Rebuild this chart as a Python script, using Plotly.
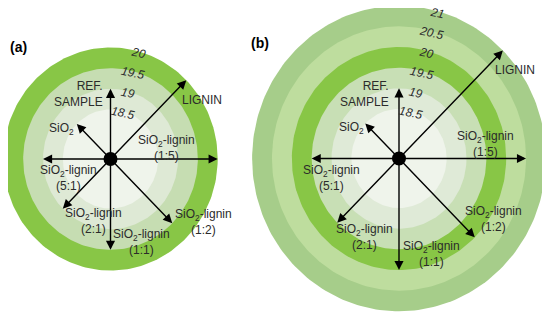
import numpy as np
import plotly.graph_objects as go

# ring levels and colours (outer value of each disk)
levels_a = [20, 19.5, 19, 18.5]
colors_a = ["#88c646", "#c6ddb2", "#dee9d5", "#eff4eb"]
levels_b = [21, 20.5, 20, 19.5, 19, 18.5]
colors_b = ["#a6cd8a", "#bedd9e", "#88c646", "#c8dfb5", "#dfead7", "#eff4eb"]

# samples, arrow directions (deg) and values
samples = ["REF.<br>SAMPLE", "SiO<sub>2</sub>", "LIGNIN", "SiO<sub>2</sub>-lignin<br>(1:5)",
           "SiO<sub>2</sub>-lignin<br>(1:2)", "SiO<sub>2</sub>-lignin<br>(1:1)",
           "SiO<sub>2</sub>-lignin<br>(2:1)", "SiO<sub>2</sub>-lignin<br>(5:1)"]
angles = [90, 135, 45, 0, -45, -90, -135, 180]
values_a = [19, 18.5, 20, 20, 19.5, 19.5, 19, 19]
values_b = [19, 18.5, 21, 20.5, 20, 20, 19.5, 19.5]

R0 = 17.3  # radial value at the centre

# label placement (axis units, relative to centre)
label_pos_a = [(-0.15, 1.58), (-1.23, 0.72), (2.30, 1.43), (1.42, 0.26),
               (2.34, -1.52), (0.79, -2.02), (-0.43, -1.50), (-1.06, -0.47)]
label_pos_b = [(-0.19, 1.57), (-1.19, 0.73), (2.92, 2.14), (2.17, 0.35),
               (2.38, -1.47), (0.82, -2.31), (-0.86, -1.91), (-1.70, -0.48)]

OFF = 8  # page body margin
W, H = 550 - OFF, 316 - OFF
SX, SY = 39.7, 41.3  # px per unit
split = 242 - OFF

fig = go.Figure()
t = np.linspace(0, 2 * np.pi, 241)
txt = "#2b2b2b"
font = dict(family="Liberation Sans, Arial", size=12, color=txt)


def panel(levels, colors, values, label_pos, xr, yr):
    for lv, c in zip(levels, colors):
        r = lv - R0
        fig.add_trace(go.Scatter(x=r * np.cos(t), y=r * np.sin(t), fill="toself", fillcolor=c,
                                 mode="lines", line=dict(width=0, color=c), hoverinfo="skip",
                                 showlegend=False, xaxis=xr, yaxis=yr))
    for name, ang, v, (lx, ly) in zip(samples, angles, values, label_pos):
        r = v - R0
        a = np.radians(ang)
        fig.add_annotation(x=r * np.cos(a), y=r * np.sin(a), ax=0, ay=0, xref=xr, yref=yr,
                           axref=xr, ayref=yr, text="", showarrow=True, arrowhead=2,
                           arrowsize=1.3, arrowwidth=1.4, arrowcolor="black", standoff=0)
        ref = name.startswith("REF")
        fig.add_annotation(x=lx, y=ly, xref=xr, yref=yr, text=name, showarrow=False,
                           font=font, xanchor="right" if ref else "center",
                           align="right" if ref else "center")
    fig.add_trace(go.Scatter(x=[0], y=[0], mode="markers", marker=dict(size=14, color="black"),
                             hoverinfo="skip", showlegend=False, xaxis=xr, yaxis=yr))
    tick = np.radians(90 - 15)
    for lv in levels:
        r = lv - R0
        fig.add_annotation(x=r * np.cos(tick), y=r * np.sin(tick), xref=xr, yref=yr,
                           text="<i>%g</i>" % lv, showarrow=False, textangle=12, yshift=-2,
                           font=dict(family="Liberation Sans, Arial", size=12, color=txt))


panel(levels_a, colors_a, values_a, label_pos_a, "x", "y")
panel(levels_b, colors_b, values_b, label_pos_b, "x2", "y2")

ca, cb = (110.5 - OFF, 159 - OFF), (399 - OFF, 158.5 - OFF)
ax_common = dict(visible=False, showgrid=False, zeroline=False, fixedrange=True)
fig.update_layout(
    width=W, height=H, margin=dict(l=0, r=0, t=0, b=0),
    paper_bgcolor="white", plot_bgcolor="white", showlegend=False,
    xaxis=dict(domain=[0, split / W], range=[-ca[0] / SX, (split - ca[0]) / SX], **ax_common),
    yaxis=dict(domain=[0, 1], range=[-(H - ca[1]) / SY, ca[1] / SY], **ax_common),
    xaxis2=dict(domain=[split / W, 1], range=[-(cb[0] - split) / SX, (W - cb[0]) / SX], **ax_common),
    yaxis2=dict(domain=[0, 1], anchor="x2", range=[-(H - cb[1]) / SY, cb[1] / SY], **ax_common),
)
fig.add_annotation(x=0, y=1 - (46.7 - OFF) / H, xref="paper", yref="paper",
                   text="<b>(a)</b>", showarrow=False, xanchor="left", yanchor="middle",
                   font=dict(family="Liberation Sans, Arial", size=14, color="black"))
fig.add_annotation(x=(260 - OFF) / W, y=1 - (43.3 - OFF) / H, xref="paper", yref="paper",
                   text="<b>(b)</b>", showarrow=False, xanchor="center", yanchor="middle",
                   font=dict(family="Liberation Sans, Arial", size=14, color="black"))

fig.write_html("out.html")
